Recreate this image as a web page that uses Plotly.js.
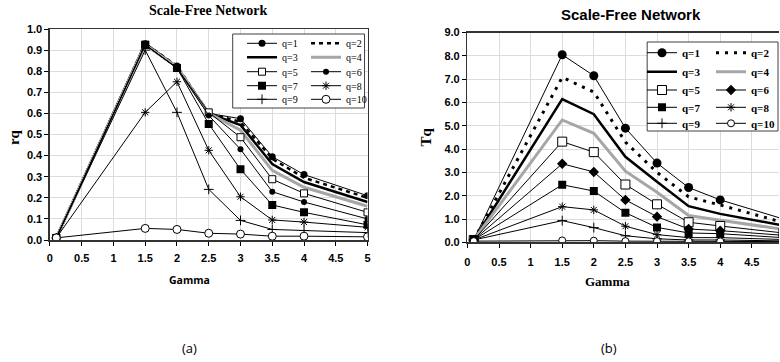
<!DOCTYPE html>
<html>
<head>
<meta charset="utf-8">
<script src="https://cdn.plot.ly/plotly-3.0.1.min.js"></script>
<style>
  html, body { margin: 0; padding: 0; background: #fff; overflow: hidden; }
  #chart { width: 780px; height: 362px; }
</style>
</head>
<body>
<div id="chart"></div>
<script>
// Gamma values of the scale-free networks
const gamma = [0.1, 1.5, 2, 2.5, 3, 3.5, 4, 5];
const seriesNames = ['q=1', 'q=2', 'q=3', 'q=4', 'q=5', 'q=6', 'q=7', 'q=8', 'q=9', 'q=10'];

// (a) rq against gamma
const rq1  = [0.01, 0.93, 0.825, 0.60, 0.575, 0.395, 0.31, 0.21];
const rq2  = [0.01, 0.93, 0.825, 0.60, 0.56, 0.385, 0.295, 0.20];
const rq3  = [0.01, 0.93, 0.82, 0.60, 0.545, 0.36, 0.275, 0.18];
const rq4  = [0.01, 0.925, 0.82, 0.60, 0.52, 0.33, 0.25, 0.16];
const rq5  = [0.01, 0.925, 0.815, 0.605, 0.487, 0.288, 0.221, 0.131];
const rq6  = [0.01, 0.925, 0.815, 0.59, 0.43, 0.229, 0.18, 0.10];
const rq7  = [0.01, 0.925, 0.815, 0.55, 0.335, 0.166, 0.131, 0.072];
const rq8  = [0.01, 0.605, 0.75, 0.425, 0.205, 0.095, 0.085, 0.06];
const rq9  = [0.01, 0.90, 0.605, 0.24, 0.093, 0.05, 0.045, 0.035];
const rq10 = [0.01, 0.055, 0.05, 0.032, 0.028, 0.018, 0.018, 0.015];

// (b) Tq against gamma
const tq1  = [0.1, 8.05, 7.15, 4.9, 3.4, 2.35, 1.82, 1.0];
const tq2  = [0.1, 7.08, 6.45, 4.3, 3.0, 1.95, 1.6, 0.85];
const tq3  = [0.1, 6.15, 5.5, 3.67, 2.6, 1.55, 1.22, 0.72];
const tq4  = [0.1, 5.25, 4.68, 3.05, 2.15, 1.15, 0.95, 0.55];
const tq5  = [0.1, 4.32, 3.87, 2.48, 1.63, 0.86, 0.7, 0.4];
const tq6  = [0.1, 3.37, 3.02, 1.82, 1.1, 0.57, 0.5, 0.3];
const tq7  = [0.1, 2.47, 2.2, 1.27, 0.64, 0.4, 0.37, 0.2];
const tq8  = [0.1, 1.53, 1.39, 0.69, 0.33, 0.2, 0.2, 0.12];
const tq9  = [0.1, 0.93, 0.63, 0.28, 0.15, 0.1, 0.1, 0.06];
const tq10 = [0.05, 0.08, 0.07, 0.05, 0.05, 0.04, 0.04, 0.03];

const rqSeries = [rq1, rq2, rq3, rq4, rq5, rq6, rq7, rq8, rq9, rq10];
const tqSeries = [tq1, tq2, tq3, tq4, tq5, tq6, tq7, tq8, tq9, tq10];

const W = 780, H = 362;
const px = v => v / W;          // horizontal pixel -> paper fraction
const py = v => 1 - v / H;      // vertical pixel -> paper fraction

const GRAY = '#a6a6a6';
const SERIF = 'Liberation Serif, Times New Roman, serif';
const SANS = 'Liberation Sans, Arial, sans-serif';

// line / marker look of each q, for panel (a) and panel (b)
function styleFor(i, panel) {
  const thin = { color: '#000', width: 1 };
  switch (i) {
    case 0: return { mode: 'lines+markers', line: thin,
      marker: { symbol: 'circle', size: panel === 'a' ? 7 : 9, color: '#000' } };
    case 1: return { mode: 'lines', line: { color: '#000', width: panel === 'a' ? 2.5 : 3,
      dash: panel === 'a' ? '4px,4px' : '3px,6px' } };
    case 2: return { mode: 'lines', line: { color: '#000', width: 2.5 } };
    case 3: return { mode: 'lines', line: { color: GRAY, width: 3 } };
    case 4: return { mode: 'lines+markers', line: thin,
      marker: { symbol: 'square', size: panel === 'a' ? 7 : 9, color: '#fff', line: { color: '#000', width: 1 } } };
    case 5: return { mode: 'lines+markers', line: thin,
      marker: { symbol: panel === 'a' ? 'circle' : 'diamond', size: panel === 'a' ? 6 : 8, color: '#000' } };
    case 6: return { mode: 'lines+markers', line: thin,
      marker: { symbol: 'square', size: 8, color: '#000' } };
    case 7: return { mode: 'lines+markers', line: thin,
      marker: { symbol: 'asterisk-open', size: 7, color: '#000', line: { color: '#000', width: 1 } } };
    case 8: return { mode: 'lines+markers', line: thin,
      marker: { symbol: 'cross-thin-open', size: 7, color: '#000', line: { color: '#000', width: 1 } } };
    default: return { mode: 'lines+markers', line: thin,
      marker: { symbol: 'circle', size: panel === 'a' ? 8 : 7, color: '#fff', line: { color: '#000', width: 1 } } };
  }
}

const legendId = k => (k === 0 ? 'legend' : 'legend' + (k + 1));

const traces = [];
rqSeries.forEach((ys, i) => {
  traces.push(Object.assign({
    type: 'scatter', x: gamma, y: ys, name: seriesNames[i],
    xaxis: 'x', yaxis: 'y', legend: legendId(Math.floor(i / 2)),
    cliponaxis: true, hoverinfo: 'x+y+name'
  }, styleFor(i, 'a')));
});
tqSeries.forEach((ys, i) => {
  traces.push(Object.assign({
    type: 'scatter', x: gamma, y: ys, name: seriesNames[i],
    xaxis: 'x2', yaxis: 'y2', legend: legendId(5 + Math.floor(i / 2)),
    cliponaxis: true, hoverinfo: 'x+y+name'
  }, styleFor(i, 'b')));
});

const tickFont = { family: SANS, size: 11, color: '#000', weight: 700 };
const axisCommon = {
  showgrid: true, gridcolor: '#dcdcdc', gridwidth: 1, zeroline: false,
  showline: true, linecolor: '#333', linewidth: 1.5,
  ticks: 'outside', ticklen: 4, tickcolor: '#000', tickwidth: 1,
  tickfont: tickFont, fixedrange: true
};

// centred text placed in page pixels
function label(text, xPix, yPix, font, angle) {
  return {
    text: text, x: px(xPix), y: py(yPix), xref: 'paper', yref: 'paper',
    xanchor: 'center', yanchor: 'middle', showarrow: false,
    textangle: angle || 0, font: font
  };
}

const layout = {
  width: W, height: H,
  margin: { l: 0, r: 0, t: 0, b: 0 },
  paper_bgcolor: '#fff', plot_bgcolor: '#fff',
  showlegend: true,
  xaxis: Object.assign({}, axisCommon, {
    domain: [px(50), px(368)], anchor: 'y', range: [0, 5], dtick: 0.5, tick0: 0,
    mirror: true, ticklabelstandoff: 3
  }),
  yaxis: Object.assign({}, axisCommon, {
    domain: [py(240), py(29)], anchor: 'x', range: [0, 1.0], dtick: 0.1, tick0: 0,
    tickformat: '.1f', mirror: true
  }),
  xaxis2: Object.assign({}, axisCommon, {
    domain: [px(468), 1], anchor: 'y2', range: [0, 4.93], dtick: 0.5, tick0: 0,
    mirror: true, ticklabelstandoff: 5
  }),
  yaxis2: Object.assign({}, axisCommon, {
    domain: [py(242.3), py(32.6)], anchor: 'x2', range: [0, 9], dtick: 1, tick0: 0,
    tickformat: '.1f', mirror: false
  }),
  annotations: [
    label('<b>Scale-Free Network</b>', 209, 11, { family: SERIF, size: 14, color: '#000' }),
    label('<b>Scale-Free Network</b>', 632, 14, { family: SANS, size: 15, color: '#000' }),
    label('<b>rq</b>', 14, 137, { family: SERIF, size: 15, color: '#000' }, -90),
    label('<b>Tq</b>', 427, 137, { family: SERIF, size: 15, color: '#000' }, -90),
    label('<b>Gamma</b>', 190, 280, { family: 'Open Sans, sans-serif', size: 10.5, color: '#000' }),
    label('<b>Gamma</b>', 608, 281, { family: SERIF, size: 13, color: '#000' }),
    label('(a)', 190, 348, { family: 'Open Sans, sans-serif', size: 13, color: '#000' }),
    label('(b)', 610, 348, { family: 'Open Sans, sans-serif', size: 13, color: '#000' })
  ],
  shapes: [
    { type: 'rect', xref: 'paper', yref: 'paper', x0: px(233), x1: px(365), y0: py(108), y1: py(34),
      line: { color: '#404040', width: 1 }, fillcolor: '#fff', layer: 'above' },
    { type: 'rect', xref: 'paper', yref: 'paper', x0: px(648), x1: px(779), y0: py(131), y1: py(42),
      line: { color: '#404040', width: 1 }, fillcolor: '#fff', layer: 'above' }
  ]
};

// two-column legends: one legend per row, five rows per panel
const rowsA = [43.3, 57.3, 71.7, 85.7, 99.3];
const rowsB = [52.7, 71.7, 90, 107.3, 123.3];
function legendRow(xPix, yPix, font, entry) {
  return {
    x: px(xPix), y: py(yPix), xref: 'paper', yref: 'paper',
    xanchor: 'left', yanchor: 'middle', orientation: 'h',
    bgcolor: 'rgba(0,0,0,0)', borderwidth: 0, font: font,
    entrywidth: entry, entrywidthmode: 'pixels', itemwidth: 30,
    traceorder: 'normal', tracegroupgap: 0, itemclick: false, itemdoubleclick: false
  };
}
const fontA = { family: SERIF, size: 10, color: '#000' };
const fontB = { family: SERIF, size: 11, color: '#000', weight: 700 };
rowsA.forEach((y, k) => { layout[legendId(k)] = legendRow(242, y, fontA, 19); });
rowsB.forEach((y, k) => { layout[legendId(5 + k)] = legendRow(643, y, fontB, 24); });

Plotly.newPlot('chart', traces, layout, { displayModeBar: false, staticPlot: true });
</script>
</body>
</html>
